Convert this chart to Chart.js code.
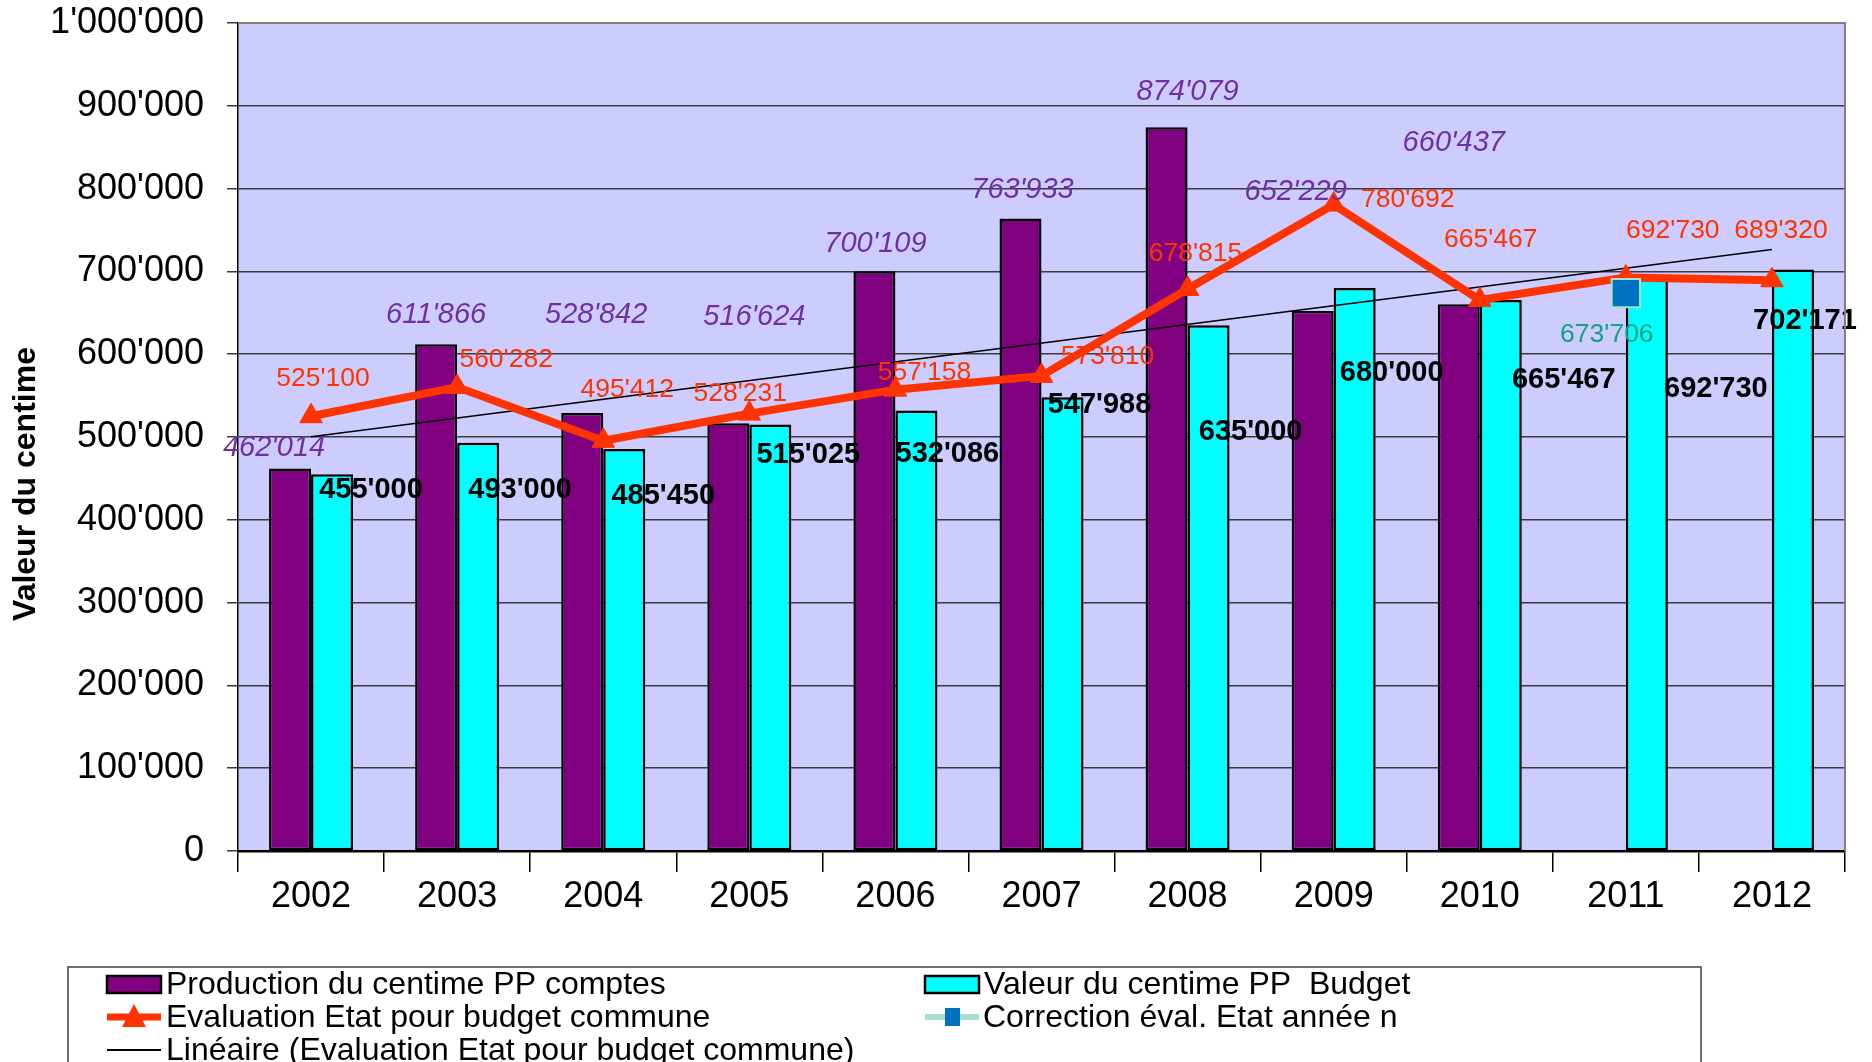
<!DOCTYPE html>
<html>
<head>
<meta charset="utf-8">
<title>Valeur du centime</title>
<script src="https://cdn.jsdelivr.net/npm/chart.js@4.4.1/dist/chart.umd.min.js"></script>
<style>
  html, body { margin: 0; padding: 0; background: #fff; }
  #wrap { width: 1872px; height: 1062px; }
</style>
</head>
<body>
<div id="wrap"><canvas id="chart" width="1872" height="1062"></canvas></div>
<script>
// données
const years = ["2002", "2003", "2004", "2005", "2006", "2007", "2008", "2009", "2010", "2011", "2012"];
const productionComptes = [462014, 611866, 528842, 516624, 700109, 763933, 874079, 652229, 660437, null, null];
const valeurBudget = [455000, 493000, 485450, 515025, 532086, 547988, 635000, 680000, 665467, 692730, 702171];
const evaluationEtat = [525100, 560282, 495412, 528231, 557158, 573810, 678815, 780692, 665467, 692730, 689320];
const correctionEval = [null, null, null, null, null, null, null, null, null, 673706, null];
// tendance linéaire : seulement les deux extrémités visibles
const tendanceLineaire = [500300, null, null, null, null, null, null, null, null, null, 726400];
const yTicks = [0, 100000, 200000, 300000, 400000, 500000, 600000, 700000, 800000, 900000, 1000000];

const FONT = '"Liberation Sans", Arial, sans-serif';

// format 1'000'000
const fmt = (v) => String(Math.round(v)).replace(/\B(?=(\d{3})+(?!\d))/g, "'");

// décalages des étiquettes (px) par rapport au point / haut de barre
const labelSets = [
  { ds: 0, color: "#7030A0", font: "italic 29px " + FONT,
    off: [[-16, -21], [0, -29], [14, -98], [26, -106], [1, -27], [2, -29], [21, -35], [-17, -119], [-5, -161], null, null] },
  { ds: 1, color: "#000000", font: "bold 29px " + FONT,
    off: [[39, 16], [42, 47], [39, 47], [38, 30], [31, 44], [37, 8], [42, 107], [37, 85], [63, 80], [69, 112], [12, 51]] },
  { ds: 2, color: "#FF3300", font: "26.5px " + FONT,
    off: [[12, -38], [49, -27], [24, -51], [-9, -20], [29, -17], [66, -19], [8, -35], [74, -5], [11, -60], [47, -47], [9, -50]] },
  { ds: 3, color: "#16A085", font: "26.5px " + FONT,
    off: [null, null, null, null, null, null, null, null, null, [-19, 42], null] },
];

// fond du graphique + bordure haut/droite
const plotBg = {
  id: "plotBg",
  beforeDraw(chart) {
    const { ctx, chartArea: a } = chart;
    ctx.save();
    ctx.fillStyle = "#CCCCFF";
    ctx.fillRect(a.left, a.top, a.right - a.left, a.bottom - a.top);
    ctx.restore();
  },
  afterDraw(chart) {
    const { ctx, chartArea: a } = chart;
    ctx.save();
    ctx.strokeStyle = "#808080";
    ctx.lineWidth = 2;
    ctx.beginPath();
    ctx.moveTo(a.left, a.top);
    ctx.lineTo(a.right, a.top);
    ctx.lineTo(a.right, a.bottom);
    ctx.stroke();
    ctx.restore();
  },
};

// étiquettes de valeurs
const valueLabels = {
  id: "valueLabels",
  afterDatasetsDraw(chart) {
    const ctx = chart.ctx;
    ctx.save();
    ctx.textAlign = "center";
    ctx.textBaseline = "middle";
    for (const s of labelSets) {
      const meta = chart.getDatasetMeta(s.ds);
      const data = chart.data.datasets[s.ds].data;
      ctx.fillStyle = s.color;
      ctx.font = s.font;
      meta.data.forEach((el, i) => {
        if (data[i] == null || !s.off[i]) return;
        ctx.fillText(fmt(data[i]), el.x + s.off[i][0], el.y + s.off[i][1]);
      });
    }
    ctx.restore();
  },
};

// titre de l'axe Y et légende
const extras = {
  id: "extras",
  afterDraw(chart) {
    const ctx = chart.ctx;
    const ds = chart.data.datasets;
    ctx.save();
    ctx.fillStyle = "#000";
    ctx.font = "bold 32px " + FONT;
    ctx.textAlign = "center";
    ctx.textBaseline = "middle";
    ctx.translate(26, 484);
    ctx.rotate(-Math.PI / 2);
    ctx.fillText("Valeur du centime", 0, 0);
    ctx.restore();

    ctx.save();
    ctx.strokeStyle = "#404040";
    ctx.lineWidth = 1.5;
    ctx.strokeRect(68, 967, 1633, 130);

    ctx.font = "32px " + FONT;
    ctx.textBaseline = "middle";
    ctx.textAlign = "left";

    const box = (x, y, fill, label) => {
      ctx.fillStyle = fill;
      ctx.fillRect(x, y - 8, 54, 17);
      ctx.strokeStyle = "#000";
      ctx.lineWidth = 2.5;
      ctx.strokeRect(x, y - 8, 54, 17);
      ctx.fillStyle = "#000";
      ctx.fillText(label, x + 59, y + 1);
    };
    box(107, 984, ds[0].backgroundColor, ds[0].label);
    box(925, 984, ds[1].backgroundColor, ds[1].label);

    // évaluation Etat
    ctx.strokeStyle = ds[2].borderColor;
    ctx.lineWidth = 7;
    ctx.beginPath(); ctx.moveTo(107, 1017); ctx.lineTo(161, 1017); ctx.stroke();
    ctx.fillStyle = ds[2].borderColor;
    ctx.beginPath(); ctx.moveTo(134, 1004); ctx.lineTo(146, 1027); ctx.lineTo(122, 1027); ctx.closePath(); ctx.fill();
    ctx.fillStyle = "#000";
    ctx.fillText(ds[2].label, 166, 1018);

    // correction
    ctx.strokeStyle = ds[3].borderColor;
    ctx.lineWidth = 6;
    ctx.beginPath(); ctx.moveTo(925, 1017); ctx.lineTo(979, 1017); ctx.stroke();
    ctx.fillStyle = ds[3].pointBackgroundColor;
    ctx.fillRect(945, 1008, 15, 18);
    ctx.fillStyle = "#000";
    ctx.fillText(ds[3].label, 983, 1018);

    // linéaire
    ctx.strokeStyle = "#000";
    ctx.lineWidth = 2;
    ctx.beginPath(); ctx.moveTo(107, 1050); ctx.lineTo(161, 1050); ctx.stroke();
    ctx.fillText(ds[4].label, 166, 1051);
    ctx.restore();
  },
};

new Chart(document.getElementById("chart"), {
  data: {
    labels: years,
    datasets: [
      {
        type: "bar",
        label: "Production du centime PP comptes",
        data: productionComptes,
        backgroundColor: "#800080",
        borderColor: "#000000",
        borderWidth: 2.5,
        borderSkipped: false,
        order: 4,
      },
      {
        type: "bar",
        label: "Valeur du centime PP  Budget",
        data: valeurBudget,
        backgroundColor: "#00FFFF",
        borderColor: "#000000",
        borderWidth: 2.5,
        borderSkipped: false,
        order: 4,
      },
      {
        type: "line",
        label: "Evaluation Etat pour budget commune",
        data: evaluationEtat,
        borderColor: "#FF3300",
        backgroundColor: "#FF3300",
        borderWidth: 8,
        pointStyle: "triangle",
        pointRadius: 13,
        pointBackgroundColor: "#FF3300",
        pointBorderColor: "#FF3300",
        pointBorderWidth: 1,
        tension: 0,
        order: 1,
      },
      {
        type: "line",
        label: "Correction éval. Etat année n",
        data: correctionEval,
        borderColor: "#A8E0C8",
        pointStyle: "rect",
        pointRadius: 20,
        pointBackgroundColor: "#0070C0",
        pointBorderColor: "#A8E0C8",
        pointBorderWidth: 2,
        order: 0,
      },
      {
        type: "line",
        label: "Linéaire (Evaluation Etat pour budget commune)",
        data: tendanceLineaire,
        borderColor: "#000000",
        borderWidth: 1.5,
        pointRadius: 0,
        spanGaps: true,
        order: 2,
      },
    ],
  },
  options: {
    responsive: false,
    devicePixelRatio: 1,
    animation: false,
    layout: { padding: { top: 23, right: 27, left: 0, bottom: 0 } },
    datasets: { bar: { categoryPercentage: 0.575, barPercentage: 1 } },
    plugins: {
      legend: { display: false },
      tooltip: { enabled: false },
    },
    scales: {
      x: {
        grid: {
          offset: true,
          drawOnChartArea: false,
          color: "#000",
          lineWidth: 1.5,
          tickLength: 21,
        },
        border: { color: "#000", width: 2.5 },
        ticks: {
          color: "#000",
          font: { family: FONT, size: 36 },
          padding: 3,
          maxRotation: 0,
        },
        afterFit(scale) { scale.height = 211; },
      },
      y: {
        min: 0,
        max: 1000000,
        afterBuildTicks(scale) { scale.ticks = yTicks.map((v) => ({ value: v })); },
        grid: { color: "#3a3a3a", lineWidth: 1.5, tickLength: 11 },
        border: { color: "#000", width: 1.5 },
        ticks: {
          color: "#000",
          font: { family: FONT, size: 36 },
          padding: 23,
          callback: (v) => fmt(v),
        },
        afterFit(scale) {
          scale.width = 238;
          scale.paddingTop = 0;
          scale.paddingBottom = 0;
        },
      },
    },
  },
  plugins: [plotBg, valueLabels, extras],
});
</script>
</body>
</html>
